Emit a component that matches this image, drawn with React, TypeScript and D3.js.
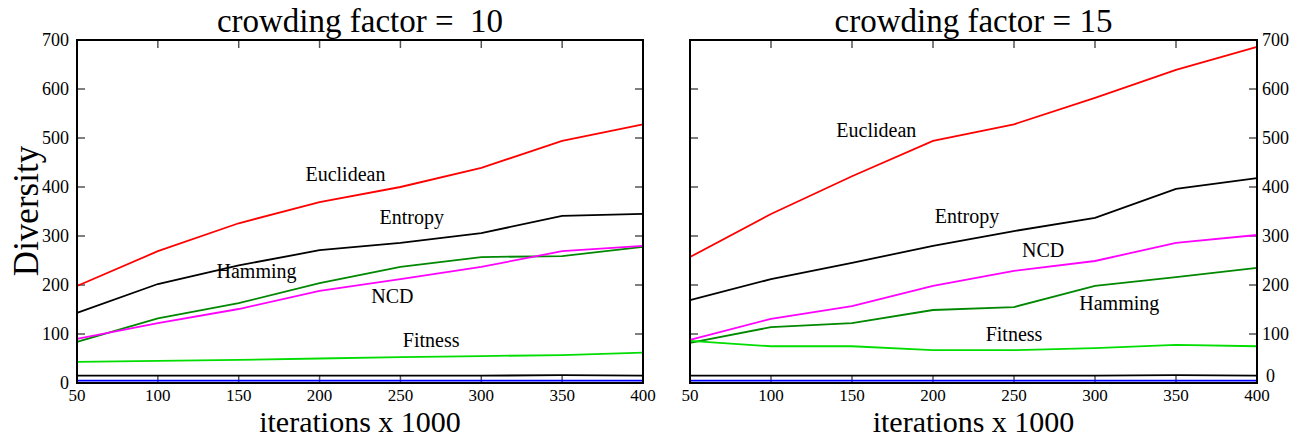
import React, { useEffect, useRef } from 'react';
import * as d3 from 'd3';

const iterations = [50, 100, 150, 200, 250, 300, 350, 400];
const yTicks = [0, 100, 200, 300, 400, 500, 600, 700];
const xTicks = [50, 100, 150, 200, 250, 300, 350, 400];

// crowding factor = 10
const euclidean10 = [198, 269, 326, 369, 400, 439, 494, 528];
const entropy10 = [143, 202, 240, 271, 286, 306, 341, 345];
const hamming10 = [84, 132, 163, 204, 237, 257, 259, 278];
const ncd10 = [90, 122, 151, 188, 212, 237, 269, 280];
const fitness10 = [43, 45, 47, 50, 53, 55, 57, 62];
const low10 = [15, 15, 15, 15, 15, 15, 16, 15];
const blue10 = [5, 5, 5, 5, 5, 5, 5, 5];

// crowding factor = 15
const euclidean15 = [257, 345, 422, 494, 528, 582, 639, 686];
const entropy15 = [169, 212, 245, 280, 310, 337, 396, 418];
const ncd15 = [88, 131, 157, 198, 229, 249, 286, 302];
const hamming15 = [82, 114, 122, 149, 155, 198, 216, 235];
const fitness15 = [86, 75, 75, 67, 67, 71, 78, 75];
const low15 = [15, 15, 15, 15, 15, 15, 16, 15];
const blue15 = [5, 5, 5, 5, 5, 5, 5, 5];

const panels = [
  {
    title: 'crowding factor =  10',
    left: 77, right: 643, axisSide: 'left',
    series: [
      { vals: euclidean10, color: '#ff0000' },
      { vals: entropy10, color: '#000000' },
      { vals: hamming10, color: '#008800' },
      { vals: ncd10, color: '#ff00ff' },
      { vals: fitness10, color: '#00dd00' },
      { vals: low10, color: '#000000' },
      { vals: blue10, color: '#0000ff' },
    ],
    labels: [
      { text: 'Euclidean', it: 216, v: 422 },
      { text: 'Entropy', it: 257, v: 333 },
      { text: 'Hamming', it: 161, v: 224 },
      { text: 'NCD', it: 245, v: 173 },
      { text: 'Fitness', it: 269, v: 82 },
    ],
  },
  {
    title: 'crowding factor = 15',
    left: 690, right: 1257, axisSide: 'right',
    series: [
      { vals: euclidean15, color: '#ff0000' },
      { vals: entropy15, color: '#000000' },
      { vals: ncd15, color: '#ff00ff' },
      { vals: hamming15, color: '#008800' },
      { vals: fitness15, color: '#00dd00' },
      { vals: low15, color: '#000000' },
      { vals: blue15, color: '#0000ff' },
    ],
    labels: [
      { text: 'Euclidean', it: 165, v: 511 },
      { text: 'Entropy', it: 221, v: 335 },
      { text: 'NCD', it: 268, v: 267 },
      { text: 'Hamming', it: 315, v: 159 },
      { text: 'Fitness', it: 250, v: 95 },
    ],
  },
];

const top = 40;
const bottom = 383;
const font = '"Liberation Serif", "Times New Roman", serif';

export default function App() {
  const ref = useRef<SVGSVGElement>(null);

  useEffect(() => {
    const svg = d3.select(ref.current);
    svg.selectAll('*').remove();

    const y = d3.scaleLinear().domain([0, 700]).range([bottom, top]);

    panels.forEach((p) => {
      const x = d3.scaleLinear().domain([50, 400]).range([p.left, p.right]);
      const g = svg.append('g');

      // tick marks, inward on all four sides
      yTicks.forEach((t) => {
        g.append('line').attr('x1', p.left).attr('x2', p.left + 8)
          .attr('y1', y(t)).attr('y2', y(t)).attr('stroke', '#555').attr('stroke-width', 1.5);
        g.append('line').attr('x1', p.right - 8).attr('x2', p.right)
          .attr('y1', y(t)).attr('y2', y(t)).attr('stroke', '#555').attr('stroke-width', 1.5);
      });
      xTicks.forEach((t) => {
        g.append('line').attr('x1', x(t)).attr('x2', x(t))
          .attr('y1', bottom - 8).attr('y2', bottom).attr('stroke', '#555').attr('stroke-width', 1.5);
        g.append('line').attr('x1', x(t)).attr('x2', x(t))
          .attr('y1', top).attr('y2', top + 8).attr('stroke', '#555').attr('stroke-width', 1.5);
      });

      const line = d3.line<number>()
        .x((d, i) => x(iterations[i]))
        .y((d) => y(d));

      p.series.forEach((s) => {
        g.append('path')
          .datum(s.vals)
          .attr('d', line)
          .attr('fill', 'none')
          .attr('stroke', s.color)
          .attr('stroke-width', 1.8);
      });

      g.append('rect')
        .attr('x', p.left).attr('y', top)
        .attr('width', p.right - p.left).attr('height', bottom - top)
        .attr('fill', 'none').attr('stroke', '#000').attr('stroke-width', 2);

      p.labels.forEach((l) => {
        g.append('text')
          .attr('x', x(l.it)).attr('y', y(l.v))
          .attr('text-anchor', 'middle')
          .attr('dominant-baseline', 'middle')
          .style('font-family', font).style('font-size', '20px')
          .text(l.text);
      });

      // y tick labels
      yTicks.forEach((t) => {
        const isLeft = p.axisSide === 'left';
        const zeroRight = !isLeft && t === 0;
        g.append('text')
          .attr('x', isLeft ? p.left - 8 : p.right + (zeroRight ? 9 : 5))
          .attr('y', y(t) - (zeroRight ? 7 : 0))
          .attr('dy', '0.35em')
          .attr('text-anchor', isLeft ? 'end' : 'start')
          .style('font-family', font).style('font-size', '18px')
          .text(t);
      });

      // x tick labels
      xTicks.forEach((t) => {
        g.append('text')
          .attr('x', x(t)).attr('y', bottom + 18)
          .attr('text-anchor', 'middle')
          .style('font-family', font).style('font-size', '17px')
          .text(t);
      });

      g.append('text')
        .attr('x', (p.left + p.right) / 2).attr('y', 32)
        .attr('text-anchor', 'middle')
        .style('font-family', font).style('font-size', '33px')
        .style('white-space', 'pre')
        .text(p.title);

      g.append('text')
        .attr('x', (p.left + p.right) / 2).attr('y', 432)
        .attr('text-anchor', 'middle')
        .style('font-family', font).style('font-size', '30px')
        .text('iterations x 1000');
    });

    svg.append('text')
      .attr('transform', 'translate(38,211) rotate(-90)')
      .attr('text-anchor', 'middle')
      .style('font-family', font).style('font-size', '35px')
      .text('Diversity');
  }, []);

  return (
    <svg
      ref={ref}
      width={1301}
      height={439}
      style={{ position: 'absolute', left: 0, top: 0, background: '#fff' }}
    />
  );
}
